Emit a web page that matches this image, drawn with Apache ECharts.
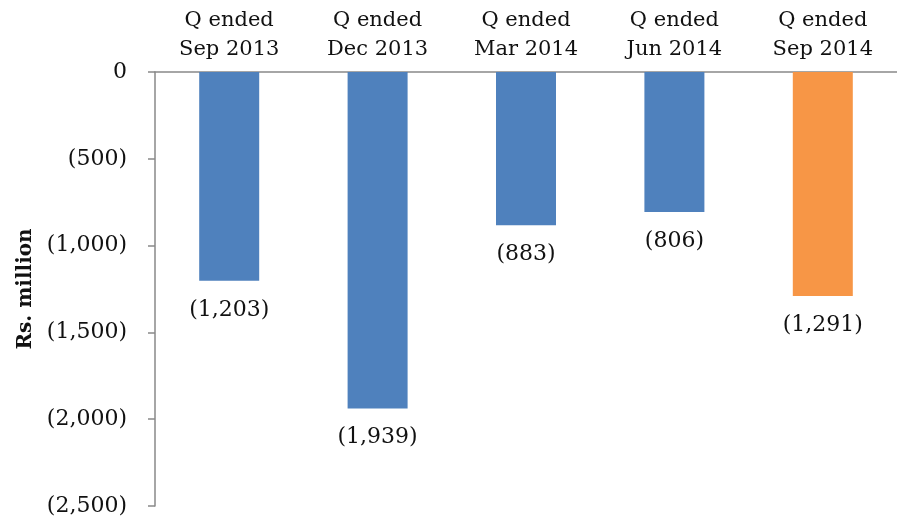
<!DOCTYPE html>
<html>
<head>
<meta charset="utf-8">
<script src="https://cdn.jsdelivr.net/npm/echarts@6/dist/echarts.min.js"></script>
<style>
  html, body { margin: 0; padding: 0; background: #fff; }
  #chart { width: 897px; height: 522px; }
</style>
</head>
<body>
<div id="chart"></div>
<script>
const quarters = ['Q ended\nSep 2013', 'Q ended\nDec 2013', 'Q ended\nMar 2014', 'Q ended\nJun 2014', 'Q ended\nSep 2014']
const values = [-1203, -1939, -883, -806, -1291]
const barColors = ['#4f81bd', '#4f81bd', '#4f81bd', '#4f81bd', '#f79646']

const font = '"DejaVu Serif", serif'
const fmt = v => {
  const s = Math.abs(v).toLocaleString('en-US')
  return v < 0 ? '(' + s + ')' : s
}

const chart = echarts.init(document.getElementById('chart'))
chart.setOption({
  animation: false,
  grid: { left: 155, right: -7, top: 72, bottom: 16 },
  xAxis: {
    type: 'category',
    position: 'top',
    data: quarters,
    axisLine: { lineStyle: { color: '#898989', width: 1.5 } },
    axisTick: { inside: true, length: 5, lineStyle: { color: '#898989', width: 1.5 } },
    axisLabel: { color: '#111', fontFamily: font, fontSize: 21, lineHeight: 29, margin: 8 }
  },
  yAxis: {
    type: 'value',
    min: -2500,
    max: 0,
    interval: 500,
    name: 'Rs. million',
    nameLocation: 'middle',
    nameGap: 119,
    nameTextStyle: { color: '#111', fontFamily: font, fontSize: 20, fontWeight: 'bold' },
    axisLine: { show: true, lineStyle: { color: '#898989', width: 1.5 } },
    axisTick: { show: true, length: 7, lineStyle: { color: '#898989', width: 1.5 } },
    splitLine: { show: false },
    axisLabel: { color: '#111', fontFamily: font, fontSize: 22, margin: 28, formatter: fmt }
  },
  series: [{
    type: 'bar',
    barWidth: 60,
    data: values.map((v, i) => ({ value: v, itemStyle: { color: barColors[i] } })),
    label: {
      show: true,
      position: 'bottom',
      distance: 18,
      color: '#111',
      fontFamily: font,
      fontSize: 22,
      formatter: p => fmt(p.value)
    }
  }]
})
</script>
</body>
</html>
